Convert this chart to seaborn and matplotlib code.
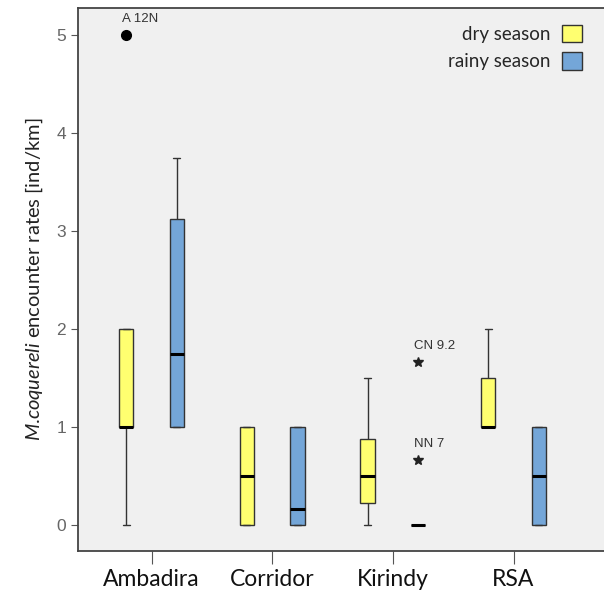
import pandas as pd
import matplotlib
matplotlib.use("Agg")
import matplotlib.pyplot as plt
import seaborn as sns

# encounter rates per site and season (values rebuilt so the boxes match the figure)
sites = ["Ambadira", "Corridor", "Kirindy", "RSA"]
seasons = ["dry season", "rainy season"]

ambadira_dry = [0, 1, 1, 1, 1, 2, 2, 2, 5]
ambadira_rainy = [1, 1, 1.75, 3.12, 3.75]
corridor_dry = [0, 0, 0.5, 1, 1]
corridor_rainy = [0, 0, 0.17, 1, 1]
kirindy_dry = [0, 0.23, 0.5, 0.88, 1.5]
kirindy_rainy = [0, 0, 0, 0, 0, 0, 0, 0.67, 1.67]
rsa_dry = [1, 1, 1, 1.5, 2]
rsa_rainy = [0, 0, 0.5, 1, 1]

# labels of the outlying transects
outlier_values = [5, 1.67, 0.67]
outlier_labels = ["A 12N", "CN 9.2", "NN 7"]
extreme_values = [1.67, 0.67]  # drawn with a star

groups = {
    ("Ambadira", "dry season"): ambadira_dry,
    ("Ambadira", "rainy season"): ambadira_rainy,
    ("Corridor", "dry season"): corridor_dry,
    ("Corridor", "rainy season"): corridor_rainy,
    ("Kirindy", "dry season"): kirindy_dry,
    ("Kirindy", "rainy season"): kirindy_rainy,
    ("RSA", "dry season"): rsa_dry,
    ("RSA", "rainy season"): rsa_rainy,
}

rows = []
for (site, season), vals in groups.items():
    for v in vals:
        rows.append({"site": site, "season": season, "rate": v})
df = pd.DataFrame(rows)

sns.set_style("ticks", {"axes.facecolor": "#F0F0F0"})
plt.rcParams["mathtext.fontset"] = "custom"
plt.rcParams["mathtext.it"] = "Lato:italic"
plt.rcParams["mathtext.rm"] = "Lato"

fig = plt.figure(figsize=(6.04, 5.94), dpi=100)
ax = fig.add_axes([0.129, 0.072, 0.871, 0.9145])

edge = "#333333"
sns.boxplot(data=df, x="site", y="rate", hue="season", order=sites, hue_order=seasons,
            palette=["#FFFF70", "#74A6D8"], saturation=1, width=0.84, gap=0.72, whis=1.5,
            linewidth=1.0, linecolor=edge,
            medianprops={"color": "black", "linewidth": 2.2},
            flierprops={"marker": "o", "markerfacecolor": "black", "markeredgecolor": "black",
                        "markersize": 7},
            ax=ax)

# SPSS style: stars for extremes, labels next to outliers
for line in ax.lines:
    ys = list(line.get_ydata())
    if line.get_marker() in ("o", "*") and len(ys) > 0 and line.get_linestyle() in ("None", "", " "):
        xs = list(line.get_xdata())
        if all(round(float(y), 2) in extreme_values for y in ys):
            line.set_marker("*")
            line.set_markersize(7)
            line.set_markerfacecolor("#222222")
            line.set_markeredgecolor("#222222")
        for x, y in zip(xs, ys):
            for val, lab in zip(outlier_values, outlier_labels):
                if abs(float(y) - val) < 0.01:
                    ax.annotate(lab, (x, y), xytext=(-3, 7), textcoords="offset points",
                                fontsize=9.5, color="#333333", family="Liberation Sans",
                                ha="left", va="bottom")

ax.set_xlim(-0.61, 3.75)
ax.set_ylim(-0.265, 5.276)
ax.set_yticks([0, 1, 2, 3, 4, 5])
ax.set_xlabel("")
ax.set_ylabel("$\\mathit{M}$.$\\mathit{coquereli}$ encounter rates [ind/km]", fontsize=14.5,
              family="Lato", color="#222222", labelpad=8)
ax.tick_params(axis="y", labelsize=12.5, labelcolor="#666666", length=5, color="#555555")
ax.tick_params(axis="x", labelsize=16.5, labelcolor="#111111", length=9, color="#555555")
for lab in ax.get_xticklabels():
    lab.set_family("Lato")
for lab in ax.get_yticklabels():
    lab.set_family("Liberation Sans")

for side in ["left", "bottom", "top"]:
    ax.spines[side].set_color("#444444")
    ax.spines[side].set_linewidth(1.3)
ax.spines["right"].set_visible(False)

leg = ax.get_legend()
handles = leg.legend_handles
labels = [t.get_text() for t in leg.get_texts()]
leg.remove()
new_leg = ax.legend(handles, labels, loc="upper right", markerfirst=False, frameon=False,
                    handlelength=1.05, handleheight=1.05, handletextpad=0.6,
                    prop={"family": "Lato", "size": 13.5}, borderaxespad=0.5,
                    bbox_to_anchor=(0.99, 1.0))
for h in new_leg.legend_handles:
    h.set_edgecolor("#333333")

fig.savefig("out.png", dpi=100)
